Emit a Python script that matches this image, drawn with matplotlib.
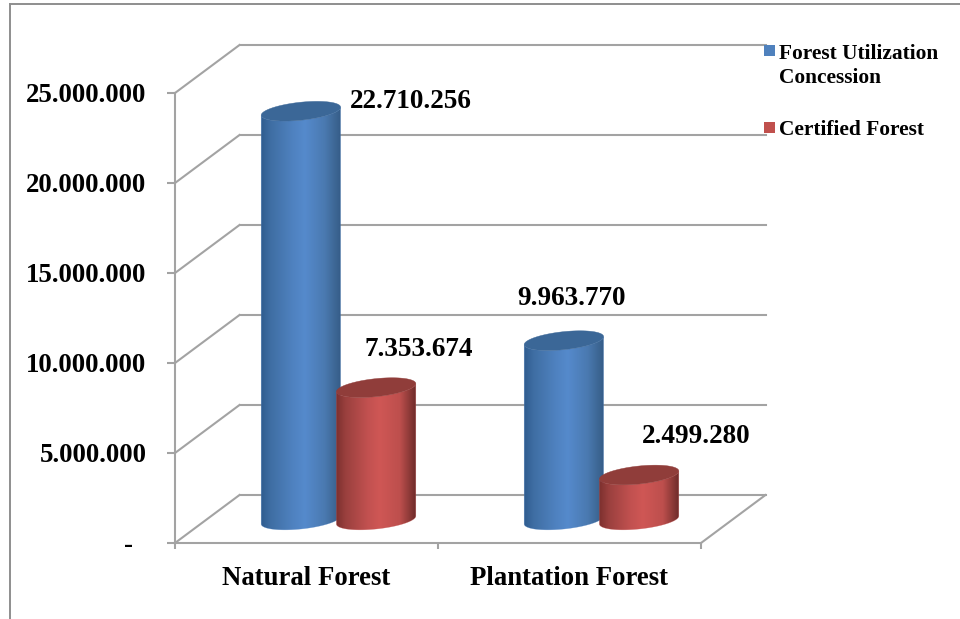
import numpy as np
import matplotlib
matplotlib.use("Agg")
import matplotlib.pyplot as plt
from matplotlib.colors import LinearSegmentedColormap
from matplotlib.lines import Line2D
from matplotlib.patches import PathPatch, Rectangle
from matplotlib.path import Path
from matplotlib.transforms import Affine2D, IdentityTransform

categories = ["Natural Forest", "Plantation Forest"]
series_names = ["Forest Utilization\nConcession", "Certified Forest"]
utilization_values = [22710256, 9963770]
certified_values = [7353674, 2499280]
y_ticks = [0, 5000000, 10000000, 15000000, 20000000, 25000000]
y_tick_labels = ["-  ", "5.000.000", "10.000.000", "15.000.000", "20.000.000", "25.000.000"]

# Pixel offsets of each value label from the top centre of its cylinder
utilization_label_offsets = [(110, 10), (8, 42)]
certified_label_offsets = [(43, 38), (57, 39)]

WIDTH, HEIGHT, DPI = 960, 619, 100
GRID = "#a3a3a3"
FRAME = "#8e8e8e"
SERIF = "Liberation Serif"
LINE_W = 1.5

plt.rcParams["font.family"] = SERIF
plt.rcParams["font.weight"] = "bold"

fig = plt.figure(figsize=(WIDTH / DPI, HEIGHT / DPI), dpi=DPI, facecolor="white")
ax = fig.add_axes([175 / WIDTH, 1 - 543 / HEIGHT, (701 - 175) / WIDTH, (543 - 93) / HEIGHT])
ax.set_xlim(-0.5, 1.5)
ax.set_ylim(0, 25000000)
ax.patch.set_visible(False)

# Outer chart border: only the left and top edges fall inside the canvas
for xs, ys in (([9.5, 9.5], [619, 3.5]), ([9.5, 960], [3.5, 3.5])):
    fig.add_artist(Line2D([x / WIDTH for x in xs], [1 - y / HEIGHT for y in ys],
                          transform=fig.transFigure, color=FRAME, lw=1.4))

# Axis styling
for side in ("top", "right"):
    ax.spines[side].set_visible(False)
for side in ("left", "bottom"):
    ax.spines[side].set_color(GRID)
    ax.spines[side].set_linewidth(LINE_W)
    ax.spines[side].set_zorder(1)

ax.set_yticks(y_ticks, y_tick_labels, fontsize=19.4, fontweight="bold")
ax.tick_params(axis="y", length=6, width=LINE_W, color=GRID, pad=14.5)
ax.set_xticks([-0.5, 0.5, 1.5], ["", "", ""])
ax.tick_params(axis="x", which="major", length=4.5, width=LINE_W, color=GRID)
ax.set_xticks(range(len(categories)), categories, minor=True, fontsize=19.3, fontweight="bold")
ax.tick_params(axis="x", which="minor", length=0, pad=16.3)

# Back wall, left wall and floor of the pseudo-3D plot box
DEPTH = (64.5, 48.0)
back = ax.transData + Affine2D().translate(*DEPTH)
for v in y_ticks:
    ax.plot([-0.5, 1.5], [v, v], transform=back, color=GRID, lw=LINE_W, clip_on=False, zorder=1)
    x0, y0 = ax.transData.transform((-0.5, v))
    ax.add_line(Line2D([x0, x0 + DEPTH[0]], [y0, y0 + DEPTH[1]], transform=IdentityTransform(),
                       color=GRID, lw=LINE_W, clip_on=False, zorder=1))
xr, yr = ax.transData.transform((1.5, 0))
ax.add_line(Line2D([xr, xr + DEPTH[0]], [yr, yr + DEPTH[1]], transform=IdentityTransform(),
                   color=GRID, lw=LINE_W, clip_on=False, zorder=1))

# Cylinders sit halfway into the box depth
MID = (32.0, 23.0)
middle = ax.transData + Affine2D().translate(*MID)
GROUP_SHIFT = 0.143
BAR_WIDTH = 0.302
CAP_B = 9.0       # half height of the ellipses, px
CAP_TILT = 4.0    # rise of the ellipse towards its right end, px

blue_cmap = LinearSegmentedColormap.from_list(
    "blue_body", [(0, "#2f5c8f"), (0.12, "#3f6ea3"), (0.4, "#4f82c0"), (0.55, "#558acc"),
                  (0.8, "#4a79b0"), (0.92, "#3e6896"), (1, "#355c88")])
red_cmap = LinearSegmentedColormap.from_list(
    "red_body", [(0, "#7c302e"), (0.12, "#9a403e"), (0.4, "#c25150"), (0.55, "#cf5755"),
                 (0.8, "#bd4f4d"), (0.92, "#8e3a38"), (1, "#6e2b2a")])
CAP_COLORS = {"blue": "#3b6797", "red": "#903d3a"}


def ellipse_points(cx, cy, half_w, start, stop, n=60):
    t = np.linspace(start, stop, n)
    return np.column_stack([cx + half_w * np.cos(t),
                            cy + CAP_TILT * np.cos(t) + CAP_B * np.sin(t)])


def draw_cylinder(xpos, value, cmap, cap_color, zorder):
    left, base = middle.transform((xpos - BAR_WIDTH / 2, 0))
    right, top = middle.transform((xpos + BAR_WIDTH / 2, value))
    cx, half_w = (left + right) / 2, (right - left) / 2

    # Body outline: front half of the base ellipse, closed along the cap's front half
    lower = ellipse_points(cx, base, half_w, np.pi, 2 * np.pi)
    cap_lower = ellipse_points(cx, top, half_w, 0, -np.pi)
    body = Path(np.vstack([lower, cap_lower, lower[:1]]), closed=True)

    gradient = np.linspace(0, 1, 256).reshape(1, -1)
    image = ax.imshow(gradient, cmap=cmap, aspect="auto", interpolation="bilinear",
                      extent=(left, right, base - 20, top + 20), zorder=zorder)
    image.set_transform(IdentityTransform())
    image.set_clip_path(body, IdentityTransform())
    ax.add_patch(PathPatch(body, transform=IdentityTransform(), facecolor="none",
                           edgecolor=cmap(0.5), lw=0.3, alpha=0.6, clip_on=False, zorder=zorder))
    cap = Path(ellipse_points(cx, top, half_w, 0, 2 * np.pi, 90), closed=True)
    ax.add_patch(PathPatch(cap, transform=IdentityTransform(), facecolor=cap_color,
                           edgecolor=cap_color, lw=0.3, clip_on=False, zorder=zorder + 0.1))


def value_text(value):
    return f"{value:,}".replace(",", ".")


series = [
    (utilization_values, -GROUP_SHIFT, blue_cmap, "blue", utilization_label_offsets, 3),
    (certified_values, GROUP_SHIFT, red_cmap, "red", certified_label_offsets, 4),
]
for values, shift, cmap, cap_key, offsets, z in series:
    for i, value in enumerate(values):
        xpos = i + shift
        draw_cylinder(xpos, value, cmap, CAP_COLORS[cap_key], z)
        anchor = ax.transData.inverted().transform(middle.transform((xpos, value)))
        dx, dy = offsets[i]
        ax.annotate(value_text(value), xy=anchor, xycoords="data",
                    xytext=(dx * 72 / DPI, dy * 72 / DPI), textcoords="offset points",
                    ha="center", va="center", fontsize=19.5, fontweight="bold",
                    color="black", zorder=6, annotation_clip=False)

# imshow resets the limits
ax.set_xlim(-0.5, 1.5)
ax.set_ylim(0, 25000000)

# Legend swatches line up with the first line of each entry
legend_colors = ["#4f81bd", "#c0504d"]
legend_swatch_tops = [45, 122]
legend_baselines = [83, 135]
for name, color, top, baseline in zip(series_names, legend_colors, legend_swatch_tops, legend_baselines):
    fig.add_artist(Rectangle((764 / WIDTH, 1 - (top + 10.7) / HEIGHT), 11 / WIDTH, 10.7 / HEIGHT,
                             transform=fig.transFigure, facecolor=color, edgecolor="none"))
    fig.text(779 / WIDTH, 1 - baseline / HEIGHT, name, fontsize=15.4, fontweight="bold",
             family=SERIF, va="baseline", ha="left", linespacing=1.25, color="black")

fig.savefig("out.png", dpi=DPI, facecolor="white")
